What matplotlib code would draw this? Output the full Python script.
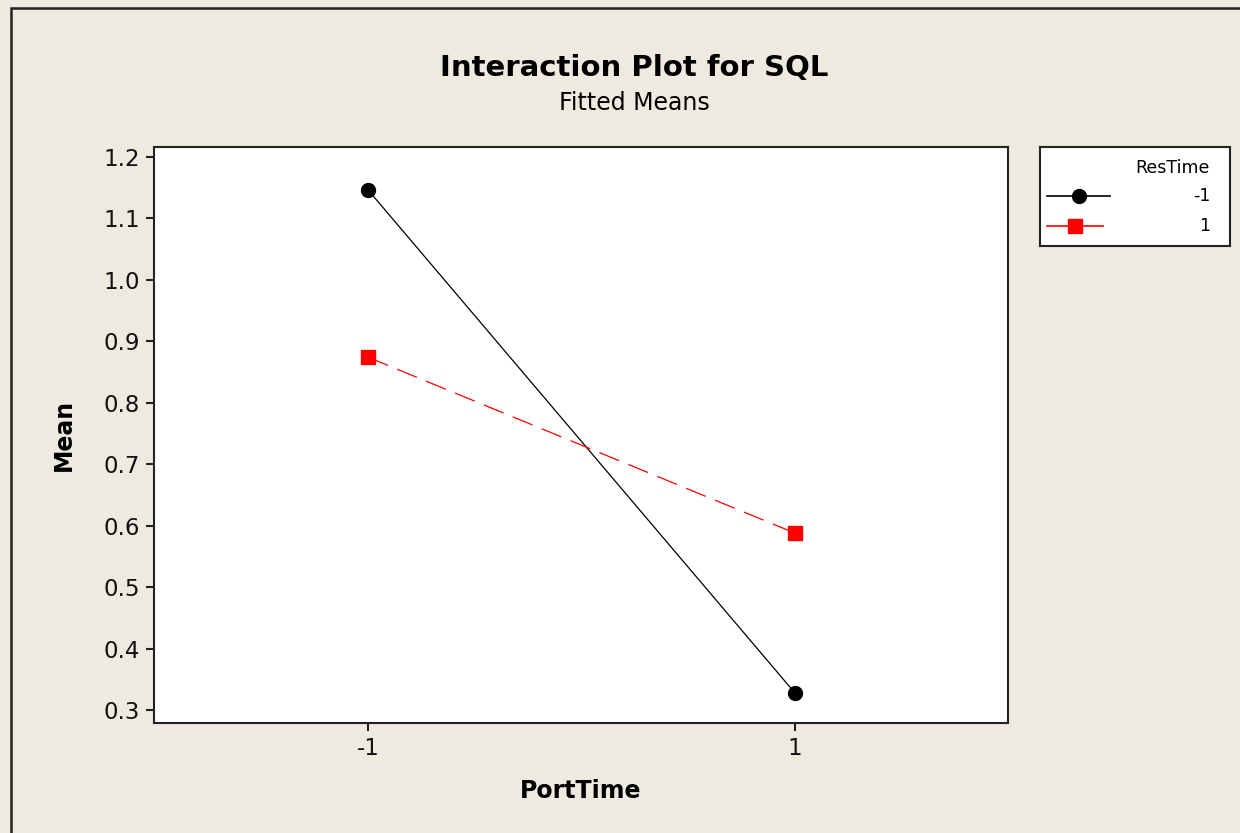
import matplotlib
matplotlib.use('Agg')
import matplotlib.pyplot as plt
import matplotlib.patches as patches
from matplotlib.lines import Line2D

# ==================== DỮ LIỆU ====================
port_levels = [-1, 1]
res_levels = ['-1', '1']
mean_res_neg = [1.146, 0.328]   # ResTime = -1
mean_res_pos = [0.874, 0.588]   # ResTime = 1
y_ticks = [0.3, 0.4, 0.5, 0.6, 0.7, 0.8, 0.9, 1.0, 1.1, 1.2]

BG = '#EEEAE0'
W, H = 1240, 833

fig = plt.figure(figsize=(12.4, 8.33), dpi=100, facecolor=BG)

# Viền ngoài của hình (chỉ thấy cạnh trái và trên)
fig.patches.append(patches.Rectangle((11 / W, -0.1), 1.2, 1 - 8 / H + 0.1,
                                     transform=fig.transFigure, fill=False,
                                     edgecolor='#222222', linewidth=1.8))

ax = fig.add_axes([154 / W, 1 - 723 / H, (1008 - 154) / W, (723 - 147) / H])
ax.set_facecolor('white')

ax.plot(port_levels, mean_res_neg, color='black', linewidth=0.9,
        marker='o', markersize=10)
ax.plot(port_levels, mean_res_pos, color='red', linewidth=0.9,
        linestyle=(0, (17, 8)), marker='s', markersize=10)

ax.set_xlim(-2.005, 2.0)
ax.set_ylim(0.2788, 1.2163)
ax.set_xticks(port_levels)
ax.set_xticklabels([str(v) for v in port_levels])
ax.set_yticks(y_ticks)
ax.set_yticklabels([f'{v:.1f}' for v in y_ticks])
ax.tick_params(axis='both', labelsize=16.5, length=6, width=1.5,
               direction='out', color='#222222', labelcolor='#111111', pad=4)
for s in ax.spines.values():
    s.set_linewidth(1.5)
    s.set_color('#222222')

ax.set_xlabel('PortTime', fontsize=17, fontweight='bold', labelpad=14)
ax.set_ylabel('Mean', fontsize=17, fontweight='bold', labelpad=20)

fig.text(634 / W, 1 - 68 / H, 'Interaction Plot for SQL', ha='center',
         va='center', fontsize=21, fontweight='bold')
fig.text(634 / W, 1 - 103 / H, 'Fitted Means', ha='center', va='center',
         fontsize=17)

# ==================== CHÚ GIẢI ====================
lax = fig.add_axes([1040 / W, 1 - 246 / H, (1230 - 1040) / W, (246 - 147) / H])
lax.set_xlim(0, 190)
lax.set_ylim(99, 0)
lax.set_xticks([])
lax.set_yticks([])
lax.set_facecolor('white')
for s in lax.spines.values():
    s.set_linewidth(1.5)
    s.set_color('#222222')
lax.text(170, 21, 'ResTime', ha='right', va='center', fontsize=12.5)
styles = [dict(color='black', marker='o'), dict(color='red', marker='s')]
for i, (lab, st) in enumerate(zip(res_levels, styles)):
    yy = 49 + i * 30
    x_end = 70 if i == 0 else 63
    lax.add_line(Line2D([7, x_end], [yy, yy], linewidth=1.2, color=st['color']))
    lax.plot([(7 + x_end) / 2], [yy], marker=st['marker'], color=st['color'],
             markersize=10)
    lax.text(170, yy, lab, ha='right', va='center', fontsize=12.5)

fig.savefig('out.png', dpi=100, facecolor=BG)
